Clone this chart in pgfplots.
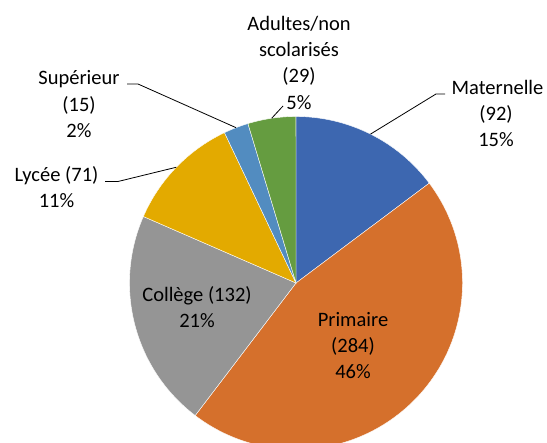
\documentclass[border=0pt]{standalone}
\usepackage{pgfplots}
\pgfplotsset{compat=1.18}
\usepackage{fontspec}
\setmainfont{Carlito}

\definecolor{cMat}{RGB}{61,103,176}
\definecolor{cPri}{RGB}{213,112,44}
\definecolor{cCol}{RGB}{149,149,149}
\definecolor{cLyc}{RGB}{227,170,0}
\definecolor{cSup}{RGB}{82,140,192}
\definecolor{cAdu}{RGB}{101,156,64}

% one line of a data label, placed at its baseline (pixel coordinates)
\newcommand{\lbl}[3]{\node[anchor=base,inner sep=0pt,font=\fontsize{20.5bp}{24bp}\selectfont] at (axis cs:#1,#2) {#3};}

\begin{document}
\begin{tikzpicture}
\begin{axis}[
    width=547bp, height=443bp, scale only axis,
    hide axis,
    xmin=0, xmax=547, ymin=0, ymax=443,
    y dir=reverse,
    clip=true,
]
\def\cx{296}\def\cy{283}\def\rr{166.5bp}
\def\total{623}
\gdef\cur{90}
% values: Maternelle, Primaire, Collège, Lycée, Supérieur, Adultes/non scolarisés
\foreach \v/\c [count=\i] in {92/cMat,284/cPri,132/cCol,71/cLyc,15/cSup,29/cAdu}{
    \pgfmathsetmacro\angB{\cur-\v/\total*360}
    \pgfmathsetmacro\angM{(\cur+\angB)/2}
    \expandafter\xdef\csname mid\i\endcsname{\angM}
    \edef\temp{\noexpand\fill[\c,draw=white,line width=0.4bp]
        (axis cs:\cx,\cy) -- ++(\cur:\rr) arc[start angle=\cur,end angle=\angB,radius=\rr] -- cycle;}
    \temp
    \global\let\cur\angB
}

% leader lines
\edef\temp{\noexpand\draw[black,line width=0.8bp]
    (axis cs:\cx,\cy) ++(\csname mid1\endcsname:\rr) -- (axis cs:436,94) -- (axis cs:445,94);}
\temp
\edef\temp{\noexpand\draw[black,line width=0.8bp]
    (axis cs:\cx,\cy) ++(\csname mid4\endcsname:\rr) -- (axis cs:118,181.5) -- (axis cs:105,181.5);}
\temp
\edef\temp{\noexpand\draw[black,line width=0.8bp]
    (axis cs:\cx,\cy) ++(\csname mid5\endcsname:\rr) -- (axis cs:138,84) -- (axis cs:127,84);}
\temp
\edef\temp{\noexpand\draw[black,line width=0.8bp]
    (axis cs:\cx,\cy) ++(\csname mid6\endcsname:\rr) -- (axis cs:283,106);}
\temp

% data labels
\lbl{299}{31}{Adultes/non}
\lbl{299}{57}{scolarisés}
\lbl{299}{83}{(29)}
\lbl{299}{109}{5\%}

\lbl{497.5}{94}{Maternelle}
\lbl{496}{120}{(92)}
\lbl{496}{146}{15\%}

\lbl{79}{85}{Supérieur}
\lbl{79}{111}{(15)}
\lbl{79}{137}{2\%}

\lbl{56.5}{181}{Lycée (71)}
\lbl{56.5}{207}{11\%}

\lbl{197}{301}{Collège (132)}
\lbl{197}{327}{21\%}

\lbl{353}{326}{Primaire}
\lbl{353}{352}{(284)}
\lbl{353}{378}{46\%}
\end{axis}
\pgfresetboundingbox
\useasboundingbox (current axis.south west) rectangle (current axis.north east);
\end{tikzpicture}
\end{document}
